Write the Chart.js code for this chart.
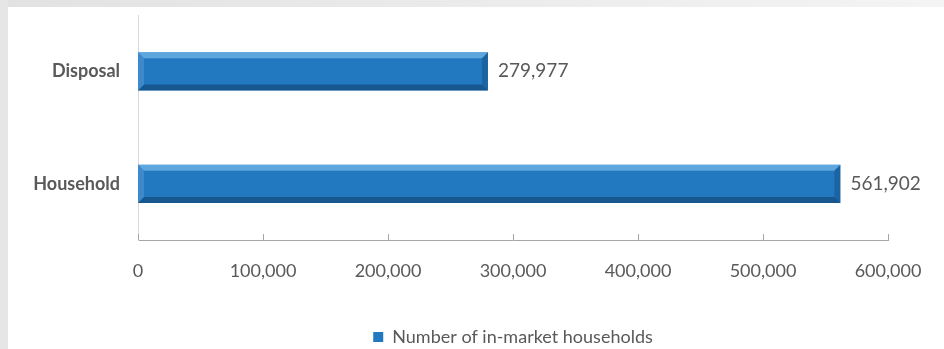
<!DOCTYPE html>
<html>
<head>
<meta charset="utf-8">
<script src="https://cdn.jsdelivr.net/npm/chart.js@4.4.0/dist/chart.umd.min.js"></script>
<style>
  html, body { margin: 0; padding: 0; background: #fff; overflow: hidden; }
  #frame {
    position: absolute; left: 0; top: 0; width: 944px; height: 349px;
    background: linear-gradient(to right, #e2e2e2, #f4f4f4);
  }
  #side { position: absolute; left: 0; top: 0; width: 8px; height: 349px; background: #e6e6e6; }
  #wrap { position: absolute; left: 8px; top: 7px; width: 936px; height: 349px; background: #fff; }
</style>
</head>
<body>
<div id="frame"></div>
<div id="side"></div>
<div id="wrap"><canvas id="barChart" width="936" height="349"></canvas></div>
<script>
// data
var categories = ["Disposal", "Household"];
var households = [279977, 561902];
var seriesName = "Number of in-market households";
var xTicks = [0, 100000, 200000, 300000, 400000, 500000, 600000];

var textGrey = "#595959";
var barBlue = "#2379bf";

// bevel on each bar, drawn over the bar element
var bevelPlugin = {
    id: "bevel",
    afterDatasetsDraw: function (chart) {
        var ctx = chart.ctx;
        chart.getDatasetMeta(0).data.forEach(function (bar) {
            var l = bar.base, r = bar.x, t = bar.y - bar.height / 2, b = bar.y + bar.height / 2;
            var d = 6;
            ctx.save();
            // top
            ctx.fillStyle = "rgba(120,185,235,0.7)";
            ctx.beginPath(); ctx.moveTo(l, t); ctx.lineTo(r, t); ctx.lineTo(r - d, t + d); ctx.lineTo(l + d, t + d); ctx.closePath(); ctx.fill();
            // bottom
            ctx.fillStyle = "rgba(15,60,105,0.55)";
            ctx.beginPath(); ctx.moveTo(l, b); ctx.lineTo(r, b); ctx.lineTo(r - d, b - d); ctx.lineTo(l + d, b - d); ctx.closePath(); ctx.fill();
            // left
            ctx.fillStyle = "rgba(90,160,220,0.45)";
            ctx.beginPath(); ctx.moveTo(l, t); ctx.lineTo(l + d, t + d); ctx.lineTo(l + d, b - d); ctx.lineTo(l, b); ctx.closePath(); ctx.fill();
            // right
            ctx.fillStyle = "rgba(20,75,125,0.45)";
            ctx.beginPath(); ctx.moveTo(r, t); ctx.lineTo(r - d, t + d); ctx.lineTo(r - d, b - d); ctx.lineTo(r, b); ctx.closePath(); ctx.fill();
            ctx.restore();
        });
    }
};

// value labels and small upward tick marks
var labelPlugin = {
    id: "valueLabels",
    afterDraw: function (chart) {
        var ctx = chart.ctx;
        ctx.save();
        ctx.font = "19px Lato";
        ctx.fillStyle = textGrey;
        ctx.textBaseline = "middle";
        chart.getDatasetMeta(0).data.forEach(function (bar, i) {
            ctx.fillText(households[i].toLocaleString("en-US"), bar.x + 10, bar.y);
        });
        var xs = chart.scales.x;
        ctx.strokeStyle = "#a6a6a6";
        ctx.lineWidth = 1;
        xTicks.forEach(function (v) {
            var px = Math.round(xs.getPixelForValue(v)) + 0.5;
            ctx.beginPath(); ctx.moveTo(px, xs.top); ctx.lineTo(px, xs.top - 6); ctx.stroke();
        });
        ctx.restore();
    }
};

var barChart = new Chart(document.getElementById("barChart"), {
    type: "bar",
    data: {
        labels: categories,
        datasets: [
            {
                label: seriesName,
                data: households,
                backgroundColor: barBlue,
                borderWidth: 0,
                barPercentage: 0.34,
                categoryPercentage: 1
            }
        ]
    },
    options: {
        indexAxis: "y",
        responsive: false,
        animation: false,
        layout: { padding: { top: 8, right: 56, bottom: 0, left: 0 } },
        scales: {
            x: {
                min: 0,
                max: 600000,
                afterBuildTicks: function (scale) {
                    scale.ticks = xTicks.map(function (v) { return { value: v }; });
                },
                afterFit: function (scale) { scale.height = 78; },
                grid: { display: false, drawTicks: false },
                border: { display: true, color: "#a6a6a6", width: 1 },
                ticks: {
                    padding: 20,
                    color: textGrey,
                    font: { family: "Lato", size: 18 },
                    callback: function (v) { return Number(v).toLocaleString("en-US"); }
                }
            },
            y: {
                afterFit: function (scale) {
                    scale.width = 130;
                    scale.paddingTop = 0;
                    scale.paddingBottom = 0;
                },
                grid: { display: false, drawTicks: false },
                border: { display: true, color: "#d9d9d9", width: 1 },
                ticks: {
                    padding: 18,
                    color: textGrey,
                    font: { family: "Lato", size: 18, weight: "bold" }
                }
            }
        },
        plugins: {
            legend: {
                position: "bottom",
                fullSize: false,
                labels: {
                    color: textGrey,
                    boxWidth: 10,
                    boxHeight: 10,
                    padding: 10,
                    font: { family: "Lato", size: 18 }
                }
            },
            tooltip: { enabled: false }
        }
    },
    plugins: [bevelPlugin, labelPlugin]
});
</script>
</body>
</html>
